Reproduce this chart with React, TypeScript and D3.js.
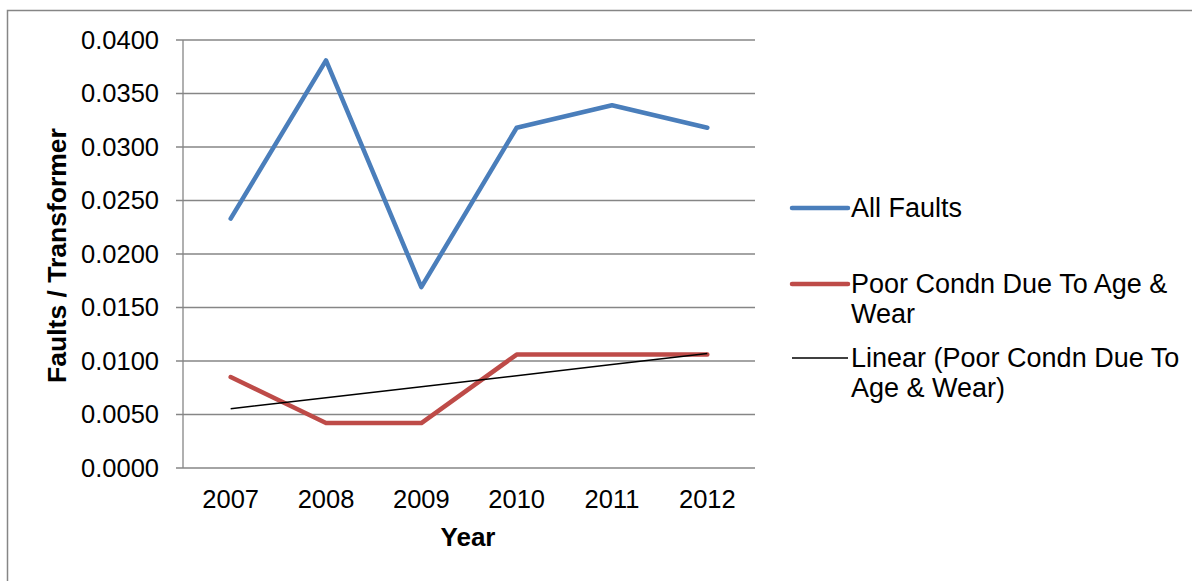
import React, { useEffect, useRef } from "react";
import * as d3 from "d3";

const years = ["2007", "2008", "2009", "2010", "2011", "2012"];
const allFaults = [0.0233, 0.0381, 0.0169, 0.0318, 0.0339, 0.0318];
const poorCondn = [0.0085, 0.0042, 0.0042, 0.0106, 0.0106, 0.0106];
const yTicks = [0, 0.005, 0.01, 0.015, 0.02, 0.025, 0.03, 0.035, 0.04];

const W = 1192;
const H = 581;
const FONT = "'Liberation Sans', Arial, sans-serif";

export default function App() {
  const ref = useRef<SVGSVGElement | null>(null);

  useEffect(() => {
    const svg = d3.select(ref.current);
    svg.selectAll("*").remove();

    const left = 183, right = 755, top = 40, bottom = 468;

    const x = d3.scaleBand<string>().domain(years).range([left, right]);
    const y = d3.scaleLinear().domain([0, 0.04]).range([bottom, top]);
    const cx = (yr: string) => (x(yr) as number) + x.bandwidth() / 2;

    // chart frame
    svg.append("rect")
      .attr("x", 7.5).attr("y", 10.5)
      .attr("width", W + 10).attr("height", H + 10)
      .attr("fill", "white").attr("stroke", "#868686").attr("stroke-width", 1.5);

    // gridlines + tick marks
    svg.append("g").selectAll("line").data(yTicks).join("line")
      .attr("x1", left - 7).attr("x2", right)
      .attr("y1", (d) => y(d)).attr("y2", (d) => y(d))
      .attr("stroke", "#868686").attr("stroke-width", 1.3);

    // y axis line
    svg.append("line")
      .attr("x1", left).attr("x2", left).attr("y1", top).attr("y2", bottom)
      .attr("stroke", "#868686").attr("stroke-width", 1.3);

    // y tick labels
    svg.append("g").selectAll("text").data(yTicks).join("text")
      .attr("x", left - 24).attr("y", (d) => y(d))
      .attr("dy", "0.35em").attr("text-anchor", "end")
      .attr("font-family", FONT).attr("font-size", 25.5)
      .text((d) => d3.format(".4f")(d));

    // x tick labels
    svg.append("g").selectAll("text").data(years).join("text")
      .attr("x", (d) => cx(d)).attr("y", 508)
      .attr("text-anchor", "middle")
      .attr("font-family", FONT).attr("font-size", 25.5)
      .text((d) => d);

    // axis titles
    svg.append("text")
      .attr("x", (left + right) / 2 - 1).attr("y", 546)
      .attr("text-anchor", "middle")
      .attr("font-family", FONT).attr("font-size", 26).attr("font-weight", "bold")
      .text("Year");
    svg.append("text")
      .attr("transform", `translate(66,${(top + bottom) / 2 + 1.5}) rotate(-90)`)
      .attr("text-anchor", "middle")
      .attr("font-family", FONT).attr("font-size", 26.5).attr("font-weight", "bold")
      .text("Faults / Transformer");

    const line = d3.line<number>()
      .x((_, i) => cx(years[i]))
      .y((d) => y(d));

    // linear trend of poor condition series (least squares)
    const xs = poorCondn.map((_, i) => i + 1);
    const mx = d3.mean(xs) as number;
    const my = d3.mean(poorCondn) as number;
    const slope = d3.sum(xs, (v, i) => (v - mx) * (poorCondn[i] - my)) /
      d3.sum(xs, (v) => (v - mx) ** 2);
    const intercept = my - slope * mx;
    const trend = xs.map((v) => intercept + slope * v);

    svg.append("path").datum(allFaults)
      .attr("d", line).attr("fill", "none")
      .attr("stroke", "#4a7ebb").attr("stroke-width", 4.5)
      .attr("stroke-linejoin", "round").attr("stroke-linecap", "round");
    svg.append("path").datum(poorCondn)
      .attr("d", line).attr("fill", "none")
      .attr("stroke", "#be4b48").attr("stroke-width", 4.5)
      .attr("stroke-linejoin", "round").attr("stroke-linecap", "round");
    svg.append("path").datum(trend)
      .attr("d", line).attr("fill", "none")
      .attr("stroke", "black").attr("stroke-width", 1.5);

    // legend
    const lg = svg.append("g").attr("font-family", FONT).attr("font-size", 27);
    const items = [
      { color: "#4a7ebb", w: 4.5, y: 208, lines: ["All Faults"] },
      { color: "#be4b48", w: 4.5, y: 284, lines: ["Poor Condn Due To Age &", "Wear"] },
      { color: "black", w: 1.5, y: 358, lines: ["Linear (Poor Condn Due To", "Age & Wear)"] },
    ];
    items.forEach((it) => {
      lg.append("line")
        .attr("x1", 792).attr("x2", 848).attr("y1", it.y).attr("y2", it.y)
        .attr("stroke", it.color).attr("stroke-width", it.w)
        .attr("stroke-linecap", it.w > 2 ? "round" : "butt");
      it.lines.forEach((t, j) => {
        lg.append("text")
          .attr("x", 851).attr("y", it.y + j * 30).attr("dy", "0.35em")
          .text(t);
      });
    });
  }, []);

  return (
    <svg
      ref={ref}
      width={W}
      height={H}
      style={{ position: "absolute", left: 0, top: 0, background: "white" }}
    />
  );
}
